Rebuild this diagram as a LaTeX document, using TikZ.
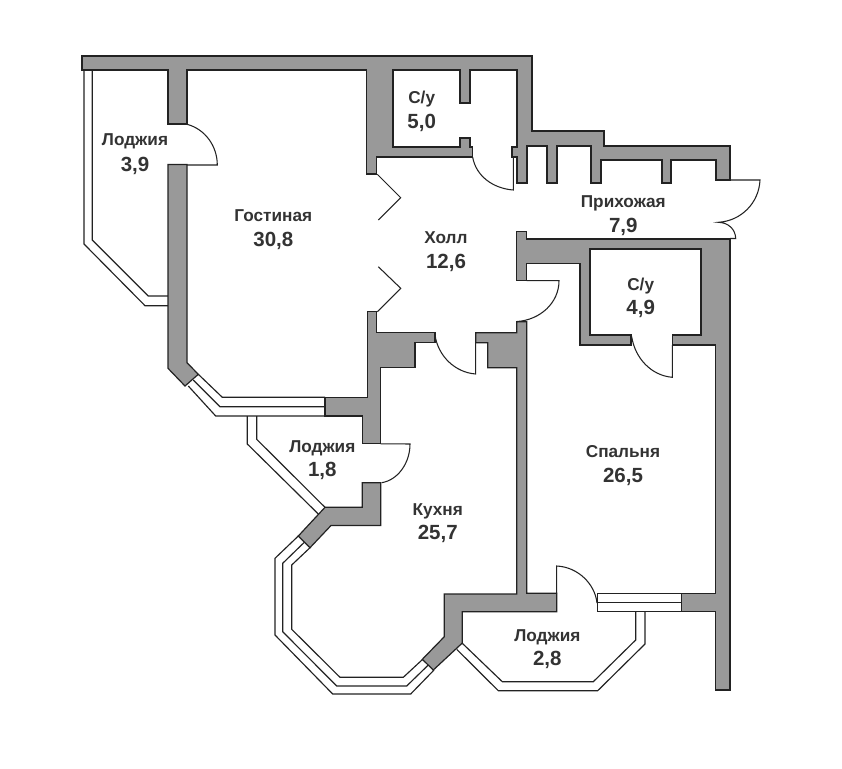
\documentclass[tikz,border=0pt]{standalone}
\usepackage{fontspec}
\setmainfont{Liberation Sans}
\definecolor{wallgray}{HTML}{999999}
\definecolor{inkc}{HTML}{222222}
\definecolor{textc}{HTML}{333333}
\tikzset{
  wall/.style={fill=wallgray,draw=inkc,line width=1.2pt,line join=miter},
  thin line/.style={draw=inkc,line width=1.15pt,line join=miter},
  doorleaf/.style={draw=inkc,line width=1.05pt},
  roomname/.style={anchor=base,inner sep=0pt,yshift=-0.6pt,text=textc,font=\fontsize{17.2}{20}\selectfont\bfseries},
  roomarea/.style={anchor=base,inner sep=0pt,text=textc,font=\fontsize{20.5}{24}\selectfont\bfseries},
}
\begin{document}
\begin{tikzpicture}[x=1pt,y=-1pt]
\useasboundingbox (0,0) rectangle (842,768);
\fill[white] (0,0) rectangle (842,768);

% loggia 3.9 glazing
\draw[thin line] (84,70) -- (84,244) -- (145,305.7) -- (168,305.7);
\draw[thin line] (92.3,70) -- (92.3,240) -- (148.3,296) -- (168,296);
% living room bay window
\draw[thin line] (198.3,374.3) -- (222.3,397.3) -- (325,397.3);
\draw[thin line] (193.3,380) -- (220,406.7) -- (325,406.7);
\draw[thin line] (188.3,386) -- (215.7,416) -- (325,416);
% loggia 1.8 glazing
\draw[thin line] (247.3,416) -- (247.3,444) -- (318.3,514);
\draw[thin line] (256.7,416) -- (256.7,439.3) -- (325,507.3);
% kitchen bay window
\draw[thin line] (298.3,536) -- (275,558.3) -- (275,635) -- (332.7,694) -- (410.7,694) -- (434,670);
\draw[thin line] (304.3,542.3) -- (282.7,563.3) -- (282.7,631.7) -- (336.7,686) -- (406.7,686) -- (428.3,665);
\draw[thin line] (310,547.7) -- (291.7,565) -- (291.7,629.3) -- (340,677.3) -- (403.3,677.3) -- (422.7,659.3);
% loggia 2.8 glazing
\draw[thin line] (456.7,649.3) -- (498.3,690.7) -- (597.7,690.7) -- (645,644) -- (645,611.7);
\draw[thin line] (462.3,643.3) -- (502.3,681.7) -- (593.3,681.7) -- (635.7,640) -- (635.7,611.7);
% bedroom window
\draw[thin line] (597.7,593.3) rectangle (681.7,611.7);
\draw[thin line] (597.7,602.3) -- (681.7,602.3);

% walls
\draw[wall] (82,56) -- (532,56) -- (532,131) -- (604,131) -- (604,146) -- (730,146) -- (730,180) -- (716,180) -- (716,160) -- (671,160) -- (671,183) -- (662,183) -- (662,160) -- (601,160) -- (601,183) -- (591,183) -- (591,146) -- (557,146) -- (557,183) -- (547,183) -- (547,146) -- (527,146) -- (527,183) -- (517,183) -- (517,157) -- (512,157) -- (512,147) -- (517,147) -- (517,70) -- (470,70) -- (470,103) -- (460,103) -- (460,70) -- (393,70) -- (393,147) -- (460,147) -- (460,138) -- (470,138) -- (470,147) -- (472.7,147) -- (472.7,157) -- (376.7,157) -- (376.7,174) -- (366.7,174) -- (366.7,70) -- (187,70) -- (187,124) -- (168,124) -- (168,70) -- (82,70) -- cycle;
\draw[wall] (168,164.5) -- (187,164.5) -- (187,362.7) -- (198.3,374.3) -- (185,386) -- (168,368.3) -- cycle;
\draw[wall] (367.3,311.7) -- (376.7,311.7) -- (376.7,332.7) -- (435,332.7) -- (435,342.7) -- (415,342.7) -- (415,367.7) -- (380.7,367.7) -- (380.7,443.3) -- (362.3,443.3) -- (362.3,416) -- (325,416) -- (325,397.3) -- (367.3,397.3) -- cycle;
\draw[wall] (475.7,332.7) -- (516.7,332.7) -- (516.7,321.7) -- (526.7,321.7) -- (526.7,593.3) -- (556.7,593.3) -- (556.7,611.7) -- (462.3,611.7) -- (462.3,643) -- (433.3,670) -- (422.3,659.3) -- (444.3,636.7) -- (444.3,594) -- (516.7,594) -- (516.7,367.7) -- (487.7,367.7) -- (487.7,342.7) -- (475.7,342.7) -- cycle;
\draw[wall] (516.7,231.7) -- (526.7,231.7) -- (526.7,239) -- (730,239) -- (730,690) -- (715.7,690) -- (715.7,611.7) -- (681.7,611.7) -- (681.7,593.3) -- (715.7,593.3) -- (715.7,345) -- (672.3,345) -- (672.3,335) -- (701,335) -- (701,249) -- (590,249) -- (590,335) -- (631,335) -- (631,345) -- (580,345) -- (580,263.3) -- (526.7,263.3) -- (526.7,280.7) -- (516.7,280.7) -- cycle;
\draw[wall] (380.7,482.7) -- (362.3,482.7) -- (362.3,507.3) -- (325,507.3) -- (298.3,536) -- (310,547.7) -- (331,525.5) -- (380.7,525.5) -- cycle;

% doors
\draw[doorleaf] (187,124.3) .. controls (205,129) and (217.3,146) .. (217.3,165) -- (187,165);
\draw[doorleaf] (472.7,157.3) .. controls (476,176) and (493,188.5) .. (513.3,190) -- (513.3,157);
\draw[doorleaf] (730,180) -- (760,180) .. controls (759,203) and (741,221) .. (718.3,222.3) .. controls (728,222.5) and (735.5,229) .. (735.7,238.5) -- (730,238.5);
\draw[doorleaf] (377.3,174.3) -- (400.7,197.7) -- (378.3,220);
\draw[doorleaf] (378.3,266.7) -- (400.7,288.3) -- (377.3,311.7);
\draw[doorleaf] (526.7,280.7) -- (559,280.7) .. controls (559,303) and (540,320) .. (517,321.5);
\draw[doorleaf] (435,335) .. controls (438,356) and (455,372.5) .. (475.7,374) -- (475.7,342.7);
\draw[doorleaf] (631.7,336.7) .. controls (635,358) and (651,375.5) .. (672.3,377.3) -- (672.3,345);
\draw[doorleaf] (380.7,443.8) -- (410,444) .. controls (410,463) and (398,480) .. (381.7,482.7);
\draw[doorleaf] (556.7,593.3) -- (556.7,566) .. controls (578,567) and (595,584) .. (597,603);

% labels
\node[roomname] (nameLoggiaA) at (135,144.5) {Лоджия};
\node[roomarea] (areaLoggiaA) at (135,171) {3,9};
\node[roomname] (nameLiving) at (273.3,221.2) {Гостиная};
\node[roomarea] (areaLiving) at (273.3,246.3) {30,8};
\node[roomname] (nameBathA) at (421.7,103.2) {С/у};
\node[roomarea] (areaBathA) at (421.7,128.7) {5,0};
\node[roomname] (nameHallway) at (623.3,207.2) {Прихожая};
\node[roomarea] (areaHallway) at (623.3,232.7) {7,9};
\node[roomname] (nameHall) at (446,243.2) {Холл};
\node[roomarea] (areaHall) at (446,268.7) {12,6};
\node[roomname] (nameBathB) at (640.7,289.8) {С/у};
\node[roomarea] (areaBathB) at (640.7,314.3) {4,9};
\node[roomname] (nameLoggiaB) at (322.3,451.5) {Лоджия};
\node[roomarea] (areaLoggiaB) at (322.3,476.3) {1,8};
\node[roomname] (nameKitchen) at (437.7,514.8) {Кухня};
\node[roomarea] (areaKitchen) at (437.7,539.7) {25,7};
\node[roomname] (nameBedroom) at (623,456.5) {Спальня};
\node[roomarea] (areaBedroom) at (623,482) {26,5};
\node[roomname] (nameLoggiaC) at (547.3,640.5) {Лоджия};
\node[roomarea] (areaLoggiaC) at (547.3,665.3) {2,8};
\end{tikzpicture}
\end{document}
